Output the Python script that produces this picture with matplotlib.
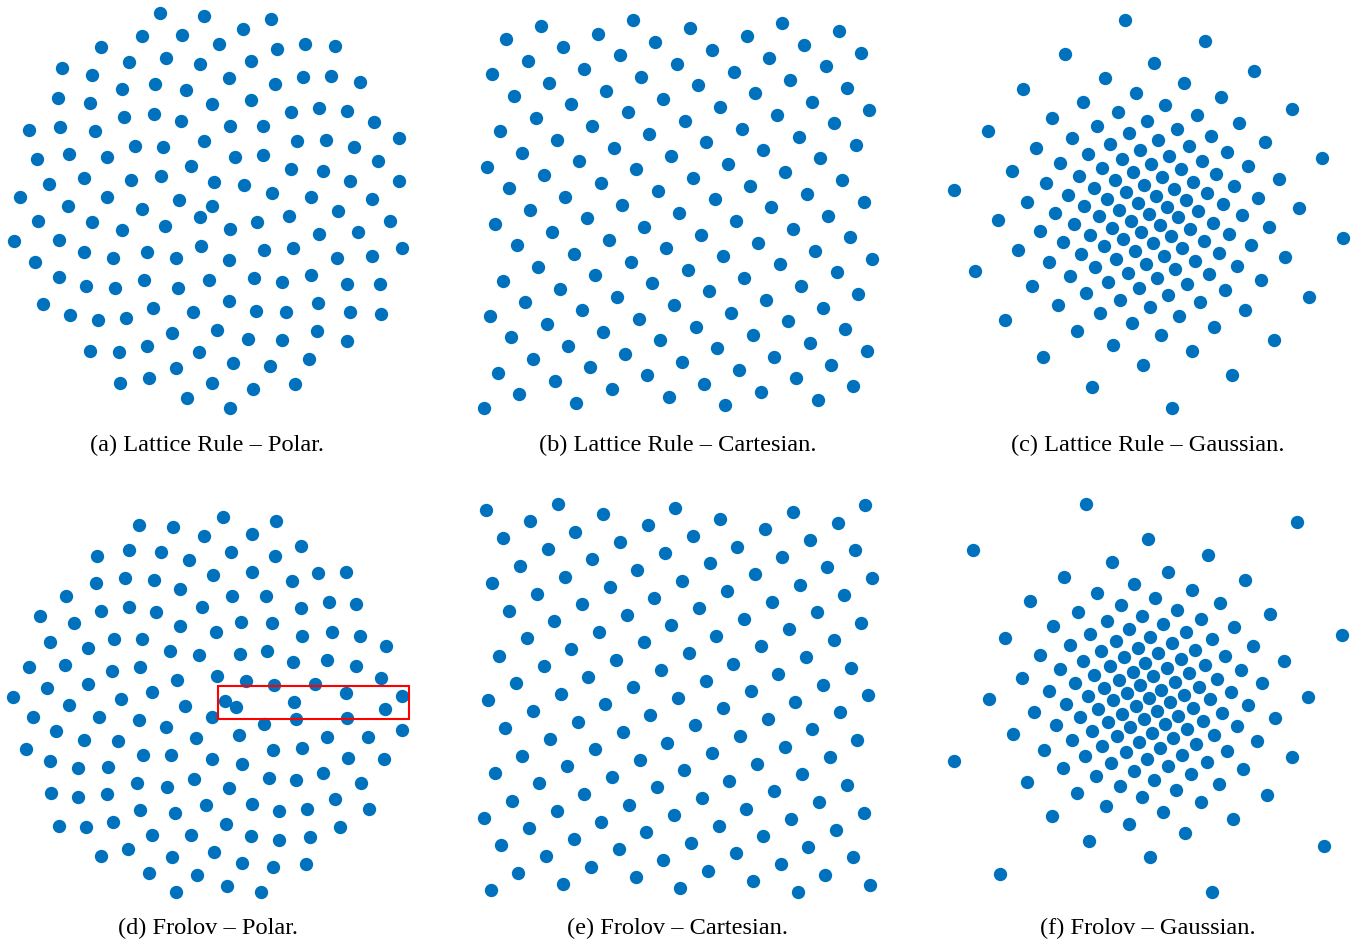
import numpy as np
import matplotlib.pyplot as plt
from matplotlib.patches import Rectangle

# Quadrature nodes, one list of (x, y) per panel (y grows downwards)
polar_lattice = [
    (160, 13), (204, 16), (271, 19), (142, 36), (182, 35), (243, 29), (101, 47), (219, 44), (305, 44), (335, 46),
    (277, 49), (129, 62), (166, 58), (200, 64), (251, 61), (62, 68), (92, 75), (229, 78), (303, 77), (331, 76),
    (360, 82), (122, 89), (155, 84), (186, 90), (275, 84), (58, 98), (90, 103), (212, 104), (251, 100), (291, 112),
    (319, 108), (347, 111), (374, 122), (124, 117), (154, 114), (181, 121), (230, 126), (263, 126), (29, 130), (60, 127),
    (95, 131), (399, 138), (135, 146), (163, 147), (204, 141), (297, 141), (326, 140), (354, 147), (37, 159), (69, 154),
    (107, 157), (235, 157), (263, 155), (191, 166), (291, 169), (323, 171), (378, 161), (49, 184), (84, 178), (131, 180),
    (161, 176), (214, 182), (244, 185), (350, 181), (399, 181), (20, 197), (68, 206), (107, 197), (179, 200), (212, 206),
    (272, 193), (311, 197), (372, 199), (142, 209), (338, 211),
    (38, 221), (92, 222), (122, 230), (165, 226), (200, 217), (230, 229), (257, 222), (289, 216), (319, 234), (358, 232),
    (390, 221), (14, 241), (59, 240), (84, 252), (113, 258), (147, 252), (176, 258), (201, 246), (229, 260), (264, 250),
    (293, 248), (337, 258), (372, 256), (402, 248), (35, 262), (59, 277), (86, 286), (115, 288), (144, 280), (178, 288),
    (209, 280), (254, 278), (282, 282), (311, 275), (347, 284), (380, 284), (43, 304), (70, 315), (98, 320), (126, 318),
    (153, 308), (193, 312), (229, 301), (256, 311), (286, 312), (318, 303), (350, 312), (381, 314), (172, 333), (217, 330),
    (248, 339), (282, 340), (317, 331), (347, 341), (90, 351), (119, 352), (147, 346), (199, 352), (233, 363), (270, 366),
    (309, 359), (176, 368), (120, 383), (149, 378), (212, 383), (253, 389), (295, 384), (187, 398), (230, 408),
]

cart_lattice = [
    (541, 26), (633, 20), (690, 28), (782, 23), (839, 31), (506, 39), (598, 34), (655, 42), (747, 36), (563, 47),
    (712, 50), (804, 45), (861, 53), (528, 61), (620, 55), (677, 64), (769, 58), (492, 74), (584, 69), (641, 77),
    (734, 72), (826, 66), (549, 83), (698, 85), (790, 80), (847, 88), (514, 96), (606, 91), (663, 99), (755, 93),
    (812, 102), (571, 104), (720, 107), (869, 110), (536, 118), (628, 112), (685, 121), (777, 115), (834, 123), (500, 131),
    (592, 126), (649, 134), (742, 129), (557, 140), (706, 142), (799, 137), (856, 145), (522, 153), (614, 148), (671, 156),
    (763, 150), (487, 167), (579, 161), (636, 169), (728, 164), (820, 158), (544, 175), (693, 178), (785, 172), (842, 180),
    (509, 188), (601, 183), (658, 191), (750, 186), (565, 197), (715, 199), (807, 194), (864, 202), (530, 210), (622, 205),
    (771, 207),
    (679, 213), (828, 216), (495, 224), (587, 218), (644, 227), (736, 221), (552, 232), (701, 235), (793, 229), (850, 237),
    (517, 245), (609, 240), (666, 248), (758, 243), (815, 251), (574, 254), (723, 256), (872, 259), (538, 267), (631, 262),
    (688, 270), (780, 264), (837, 272), (503, 281), (595, 275), (652, 283), (744, 278), (560, 289), (709, 291), (801, 286),
    (858, 294), (525, 302), (617, 297), (674, 305), (766, 300), (490, 316), (582, 310), (639, 319), (731, 313), (823, 308),
    (547, 324), (696, 327), (788, 321), (845, 329), (511, 337), (603, 332), (660, 340), (753, 335), (810, 343), (568, 346),
    (717, 348), (867, 351), (533, 359), (625, 354), (682, 362), (774, 357), (498, 373), (590, 367), (647, 375), (739, 370),
    (831, 365), (555, 381), (704, 384), (796, 378), (853, 386), (519, 394), (612, 389), (761, 392), (484, 408), (576, 403),
    (669, 397), (725, 405), (818, 400),
]

gauss_lattice = [
    (1125, 20), (1205, 41), (1065, 54), (1154, 63), (1254, 71), (1023, 89), (1105, 78), (1184, 83), (1136, 93), (1221, 97),
    (1292, 109), (1083, 102), (1165, 105), (1052, 118), (1118, 112), (1197, 115), (988, 131), (1097, 126), (1147, 121), (1239, 123),
    (1177, 129), (1129, 133), (1211, 136), (1265, 142), (1072, 138), (1110, 144), (1158, 140), (1189, 146), (1036, 148), (1140, 150),
    (1227, 152), (1088, 154), (1169, 156), (1322, 158), (1122, 159), (1202, 161), (1060, 163), (1151, 164), (1248, 166), (1102, 168),
    (1181, 169), (1012, 171), (1133, 172), (1216, 174), (1079, 176), (1162, 177), (1115, 180), (1193, 182), (1279, 179), (1046, 183),
    (1144, 185), (1234, 186), (1094, 188), (1174, 189), (954, 190), (1126, 192), (1207, 193), (1068, 195), (1156, 196), (1258, 198),
    (1107, 199), (1186, 200), (1027, 202), (1138, 203), (1223, 204), (1084, 206), (1167, 207), (1299, 208), (1119, 210), (1198, 211),
    (1055, 213), (1149, 214), (1242, 215), (1099, 216), (1178, 217),
    (998, 220), (1074, 224), (1131, 221), (1213, 223), (1160, 225), (1269, 227), (1343, 238), (1040, 231), (1112, 228), (1190, 229),
    (1090, 235), (1141, 232), (1229, 234), (1123, 239), (1171, 236), (1063, 242), (1204, 241), (1251, 245), (1018, 250), (1104, 246),
    (1153, 243), (1135, 251), (1182, 248), (1081, 254), (1219, 253), (1285, 257), (1164, 256), (1116, 259), (1195, 261), (1049, 262),
    (1146, 264), (1095, 267), (1237, 266), (975, 271), (1175, 269), (1128, 273), (1209, 274), (1070, 276), (1157, 278), (1261, 280),
    (1108, 282), (1187, 284), (1032, 286), (1139, 288), (1225, 290), (1086, 293), (1168, 295), (1309, 297), (1120, 300), (1200, 302),
    (1058, 305), (1150, 307), (1245, 310), (1100, 313), (1179, 316), (1005, 320), (1132, 323), (1214, 327), (1077, 331), (1161, 335),
    (1274, 340), (1113, 345), (1192, 351), (1043, 357), (1143, 365), (1232, 375), (1092, 387), (1172, 408),
]

polar_frolov = [
    (223, 517), (139, 525), (173, 527), (276, 521), (204, 536), (252, 534), (301, 546), (97, 556), (129, 550), (161, 552),
    (189, 560), (231, 552), (275, 556), (213, 575), (252, 572), (318, 573), (346, 572), (96, 583), (125, 578), (154, 580),
    (180, 589), (292, 581), (66, 596), (232, 596), (266, 596), (101, 611), (129, 607), (156, 612), (202, 607), (301, 608),
    (329, 602), (356, 604), (40, 616), (74, 623), (180, 626), (241, 622), (272, 623), (50, 642), (88, 648), (114, 639),
    (142, 639), (216, 632), (302, 636), (332, 632), (360, 636), (386, 646), (170, 651), (199, 655), (240, 654), (267, 651),
    (29, 667), (65, 665), (112, 671), (140, 667), (293, 662), (327, 660), (356, 666), (177, 680), (217, 676), (246, 681),
    (274, 685), (315, 684), (381, 678), (13, 697), (47, 688), (88, 684), (121, 699), (152, 692), (346, 693), (402, 696),
    (225, 701), (294, 702),
    (69, 705), (185, 706), (236, 707), (385, 709), (33, 717), (99, 717), (139, 720), (166, 727), (212, 717), (264, 724),
    (296, 719), (347, 718), (56, 731), (84, 740), (118, 741), (196, 738), (239, 735), (327, 737), (368, 737), (402, 730),
    (26, 749), (50, 761), (78, 768), (108, 767), (143, 755), (171, 755), (212, 759), (242, 764), (273, 750), (302, 748),
    (348, 758), (384, 759), (51, 793), (78, 797), (107, 794), (137, 783), (167, 787), (194, 779), (229, 788), (269, 778),
    (296, 780), (323, 773), (361, 783), (59, 826), (86, 827), (113, 822), (140, 810), (175, 813), (206, 805), (252, 804),
    (279, 811), (307, 809), (335, 799), (369, 809), (152, 835), (191, 835), (226, 824), (251, 836), (279, 840), (310, 837),
    (340, 827), (101, 856), (128, 849), (172, 857), (214, 852), (242, 863), (273, 867), (306, 864), (149, 873), (197, 875),
    (176, 892), (227, 886), (261, 892),
]

cart_frolov = [
    (486, 510), (558, 504), (530, 521), (603, 514), (675, 508), (720, 519), (793, 512), (865, 505), (503, 538), (575, 532),
    (648, 525), (693, 536), (765, 529), (838, 523), (548, 549), (620, 542), (665, 553), (737, 547), (810, 540), (855, 550),
    (520, 566), (592, 559), (637, 570), (710, 563), (782, 557), (827, 567), (492, 583), (565, 577), (610, 587), (682, 581),
    (755, 574), (800, 585), (872, 578), (537, 594), (654, 598), (727, 591), (844, 595), (509, 611), (582, 604), (627, 615),
    (699, 608), (772, 602), (817, 612), (554, 621), (599, 632), (671, 625), (744, 619), (789, 629), (861, 623), (527, 638),
    (644, 642), (716, 636), (834, 640), (499, 656), (571, 649), (616, 660), (689, 653), (761, 646), (806, 657), (544, 666),
    (588, 677), (661, 670), (733, 664), (778, 674), (851, 668), (516, 683), (633, 687), (706, 681), (823, 685), (561, 694),
    (751, 691), (678, 698), (868, 695),
    (488, 700), (605, 704), (795, 702), (533, 711), (650, 715), (723, 708), (768, 719), (840, 712), (505, 728), (578, 722),
    (623, 732), (695, 725), (812, 729), (550, 739), (667, 743), (740, 736), (785, 747), (857, 740), (522, 756), (595, 749),
    (640, 760), (712, 753), (830, 757), (495, 773), (567, 766), (612, 777), (684, 770), (757, 764), (802, 774), (539, 783),
    (657, 787), (729, 781), (774, 791), (847, 785), (512, 801), (584, 794), (629, 805), (702, 798), (819, 802), (484, 818),
    (557, 811), (601, 822), (674, 815), (746, 809), (791, 819), (864, 813), (529, 828), (646, 832), (719, 826), (836, 830),
    (501, 845), (574, 839), (619, 849), (691, 843), (763, 836), (808, 847), (546, 856), (663, 860), (736, 853), (781, 864),
    (853, 857), (518, 873), (591, 867), (636, 877), (708, 871), (825, 875), (491, 890), (563, 884), (680, 888), (753, 881),
    (798, 892), (870, 885),
]

gauss_frolov = [
    (1086, 504), (1297, 522), (973, 550), (1148, 539), (1112, 562), (1208, 555), (1064, 577), (1168, 572), (1245, 580), (1134, 584),
    (1030, 601), (1097, 593), (1192, 590), (1155, 598), (1121, 605), (1220, 603), (1078, 612), (1177, 610), (1270, 614), (1142, 616),
    (1107, 621), (1201, 619), (1053, 626), (1163, 624), (1234, 627), (1129, 629), (1090, 634), (1186, 632), (1342, 635), (1005, 638),
    (1150, 637), (1212, 639), (1116, 641), (1172, 643), (1070, 645), (1253, 646), (1138, 648), (1101, 651), (1195, 650), (1158, 653),
    (1040, 655), (1225, 656), (1124, 657), (1181, 659), (1083, 661), (1284, 661), (1145, 663), (1110, 666), (1205, 665), (1167, 668),
    (1060, 669), (1241, 670), (1133, 672), (1189, 673), (1094, 675), (1022, 678), (1153, 676), (1217, 679), (1119, 680), (1175, 682),
    (1262, 683), (1075, 683), (1140, 685), (1199, 687), (1104, 688), (1161, 690), (1231, 692), (1049, 691), (1127, 693), (1308, 697),
    (989, 699), (1184, 695), (1088, 696), (1149, 698), (1210, 699), (1113, 700), (1170, 702),
    (1066, 704), (1098, 709), (1136, 706), (1193, 708), (1248, 705), (1034, 712), (1157, 711), (1222, 713), (1080, 717), (1122, 714),
    (1178, 716), (1275, 718), (1108, 722), (1144, 719), (1203, 721), (1056, 725), (1165, 724), (1237, 726), (1130, 727), (1013, 734),
    (1092, 731), (1187, 729), (1152, 733), (1117, 736), (1214, 735), (1072, 740), (1173, 738), (1257, 741), (1139, 742), (1102, 746),
    (1196, 744), (1044, 750), (1160, 748), (1227, 751), (1126, 752), (954, 761), (1085, 756), (1182, 755), (1292, 757), (1147, 759),
    (1111, 763), (1207, 762), (1063, 768), (1168, 766), (1134, 771), (1243, 769), (1096, 776), (1191, 774), (1027, 782), (1154, 780),
    (1219, 784), (1120, 786), (1176, 790), (1077, 793), (1267, 795), (1142, 797), (1201, 802), (1106, 806), (1163, 812), (1052, 816),
    (1233, 819), (1129, 824), (1185, 833), (1089, 841), (1324, 846), (1150, 857), (1000, 874), (1212, 892),
]

captions = [
    "(a) Lattice Rule \u2013 Polar.",
    "(b) Lattice Rule \u2013 Cartesian.",
    "(c) Lattice Rule \u2013 Gaussian.",
    "(d) Frolov \u2013 Polar.",
    "(e) Frolov \u2013 Cartesian.",
    "(f) Frolov \u2013 Gaussian.",
]
point_sets = [polar_lattice, cart_lattice, gauss_lattice, polar_frolov, cart_frolov, gauss_frolov]

# zoomed-in region marked on the Frolov polar set
zoom_box = (218, 686, 191, 33)

W, H = 1359, 944
fig = plt.figure(figsize=(W / 100, H / 100), dpi=100)
plt.rcParams["font.family"] = ["Liberation Serif", "DejaVu Serif"]

box_w, box_h = 415, 420
caption_y = [444, 927]

axes = []
for k, (pts, cap) in enumerate(zip(point_sets, captions)):
    row, col = divmod(k, 3)
    x0, y0 = col * 470, row * 490
    ax = fig.add_axes([x0 / W, 1 - (y0 + box_h) / H, box_w / W, box_h / H])
    xy = np.array(pts, dtype=float)
    ax.scatter(xy[:, 0], xy[:, 1], s=92, color="#0072BD", linewidths=0, clip_on=False)
    ax.set_xlim(x0, x0 + box_w)
    ax.set_ylim(y0 + box_h, y0)
    ax.axis("off")
    fig.text((x0 + box_w / 2) / W, 1 - (caption_y[row] + 1) / H, cap,
             ha="center", va="center", fontsize=17.6)
    axes.append(ax)

bx, by, bw, bh = zoom_box
axes[3].add_patch(Rectangle((bx, by), bw, bh, fill=False, edgecolor="red",
                            linewidth=1.5, zorder=5, clip_on=False))

fig.savefig("out.png", dpi=100)
